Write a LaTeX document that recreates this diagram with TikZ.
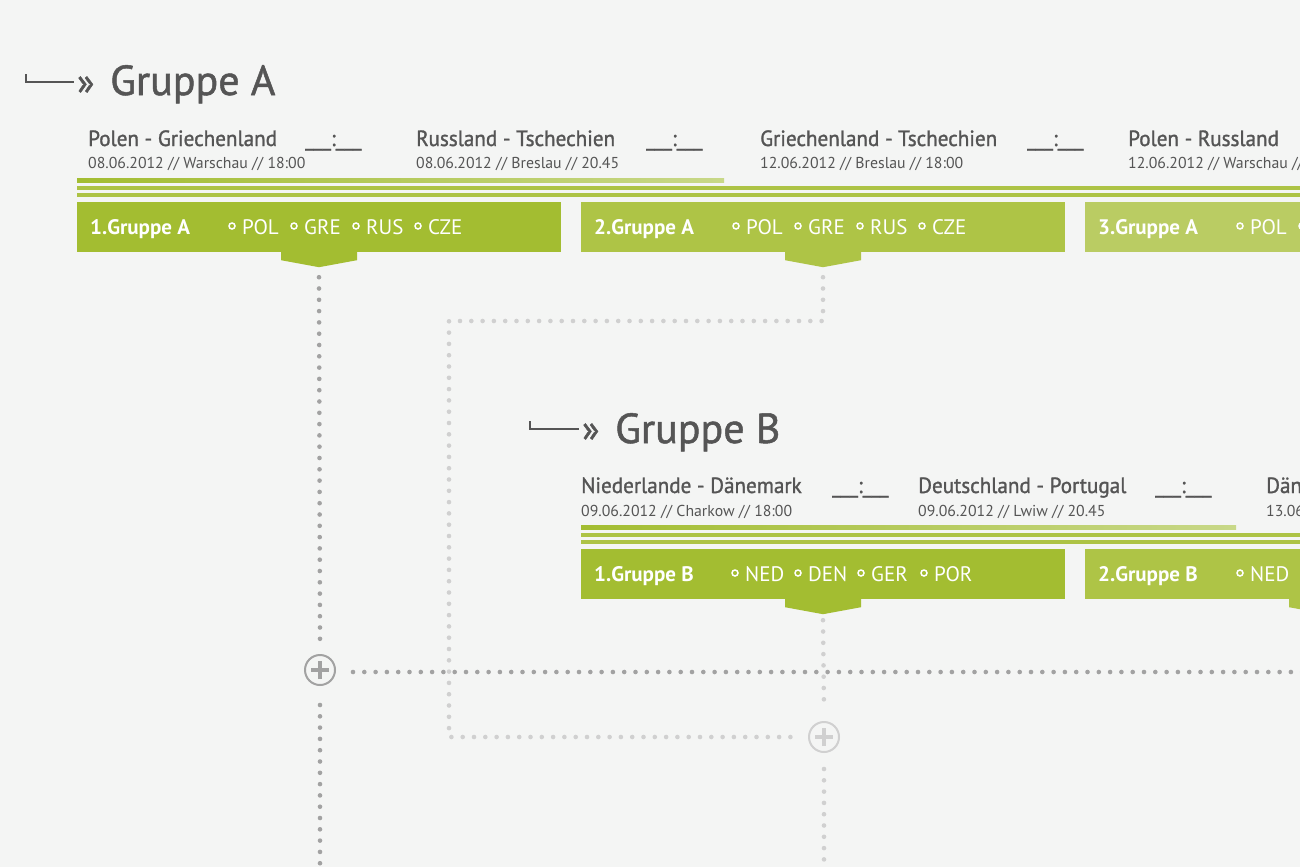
\documentclass[tikz,border=0pt]{standalone}
\usepackage{fontspec}
\setmainfont{PT Sans}
\newfontfamily\medf{PT Sans}[FakeStretch=0.96,FakeBold=1.3]
\newfontfamily\headf{PT Sans}[FakeBold=1.2]
\newfontfamily\boldf{PT Sans Bold}
\definecolor{bg}{HTML}{F4F5F4}
\definecolor{ink}{HTML}{555555}
\definecolor{gA}{HTML}{A3BD31}
\definecolor{gB}{HTML}{AEC446}
\definecolor{gC}{HTML}{BACC63}
\definecolor{gline}{HTML}{ADC345}
\definecolor{glineL}{HTML}{C8D888}
\definecolor{dotD}{HTML}{A2A2A2}
\definecolor{dotL}{HTML}{D0D0D0}
\begin{document}
\begin{tikzpicture}[x=1pt,y=-1pt,
  grp/.style={font=\headf\fontsize{42}{42}\selectfont, text=ink, anchor=base west, inner sep=0},
  guil/.style={font=\headf\fontsize{36}{36}\selectfont, text=ink, anchor=base west, inner sep=0},
  match/.style={font=\medf\fontsize{22}{22}\selectfont, text=ink, anchor=base west, inner sep=0},
  date/.style={font=\fontsize{15.8}{16}\selectfont, text=ink, anchor=base west, inner sep=0},
  box/.style={rectangle, minimum width=484pt, minimum height=50pt, inner sep=0, draw=none},
  blabel/.style={font=\boldf\fontsize{21}{21}\selectfont, text=white, anchor=base west, inner sep=0},
  team/.style={font=\fontsize{21}{21}\selectfont, text=white, anchor=base west, inner sep=0},
  tdot/.style={draw=white, line width=1.5pt},
  tick/.style={draw=ink, line width=1.6pt},
  dotsD/.style={draw=dotD, line width=4.6pt, line cap=round, dash pattern=on 0pt off 11.3pt},
  dotsL/.style={draw=dotL, line width=4.6pt, line cap=round, dash pattern=on 0pt off 11.3pt},
  plusn/.style={circle, draw=#1, line width=2pt, minimum size=30pt, inner sep=0,
    path picture={\draw[#1, line width=3.6pt]
      ([xshift=-9pt]path picture bounding box.center) -- ([xshift=9pt]path picture bounding box.center)
      ([yshift=-9pt]path picture bounding box.center) -- ([yshift=9pt]path picture bounding box.center);}},
]
\fill[bg] (0,0) rectangle (1300,867);
\useasboundingbox (0,0) rectangle (1300,867);
\clip (0,0) rectangle (1300,867);

% ---------- Gruppe A header ----------
\draw[tick] (26,74) -- (26,82) -- (74,82);
\node[guil] (guA) at (77,94) {»};
\node[grp] (gA) at (110,95) {Gruppe A};

\node[match] (mA1) at (88,146) {Polen - Griechenland};
\node[match] (sA1) at (305,146) {\_\_\_:\_\_\_};
\node[date]  (dA1) at (88,168) {08.06.2012 // Warschau // 18:00};
\node[match] (mA2) at (416,146) {Russland - Tschechien};
\node[match] (sA2) at (646,146) {\_\_\_:\_\_\_};
\node[date]  (dA2) at (416,168) {08.06.2012 // Breslau // 20.45};
\node[match] (mA3) at (760,146) {Griechenland - Tschechien};
\node[match] (sA3) at (1027,146) {\_\_\_:\_\_\_};
\node[date]  (dA3) at (760,168) {12.06.2012 // Breslau // 18:00};
\node[match] (mA4) at (1128,146) {Polen - Russland};
\node[date]  (dA4) at (1128,168) {12.06.2012 // Warschau // 20.45};

\shade[left color=gA, right color=glineL] (77,178) rectangle (724,182);
\fill[gline] (77,185.5) rectangle (1300,189.5);
\fill[gline] (77,193) rectangle (1300,197);

% ---------- Gruppe A boxes ----------
\node[box, fill=gA] (bA1) at (319,227) {};
\node[box, fill=gB] (bA2) at (823,227) {};
\node[box, fill=gC] (bA3) at (1327,227) {};
\fill[gA] ([xshift=-38pt]bA1.south) -- ++(0,8) -- ++(38,7) -- ++(38,-7) -- ++(0,-8) -- cycle;
\fill[gB] ([xshift=-38pt]bA2.south) -- ++(0,8) -- ++(38,7) -- ++(38,-7) -- ++(0,-8) -- cycle;
\coordinate (tA1) at ([yshift=-15pt]bA1.south);
\coordinate (tA2) at ([yshift=-15pt]bA2.south);

\node[blabel] (lA1) at (90,234) {1.Gruppe A};
\node[blabel] (lA2) at (594,234) {2.Gruppe A};
\node[blabel] (lA3) at (1098,234) {3.Gruppe A};
\foreach \x/\t [count=\i] in {232/POL,294/GRE,356/RUS,418/CZE} {
  \draw[tdot] (\x,226) circle[radius=3pt];
  \node[team] (tmAa\i) at (\x+10,234) {\t};
}
\foreach \x/\t [count=\i] in {736/POL,798/GRE,860/RUS,922/CZE} {
  \draw[tdot] (\x,226) circle[radius=3pt];
  \node[team] (tmAb\i) at (\x+10,234) {\t};
}
\foreach \x/\t [count=\i] in {1240/POL,1302/GRE} {
  \draw[tdot] (\x,226) circle[radius=3pt];
  \node[team] (tmAc\i) at (\x+10,234) {\t};
}

% ---------- Gruppe B header ----------
\draw[tick] (530,421) -- (530,429) -- (579,429);
\node[guil] (guB) at (582,441) {»};
\node[grp] (gB) at (615,443) {Gruppe B};

\node[match] (mB1) at (581,493) {Niederlande - Dänemark};
\node[match] (sB1) at (832,493) {\_\_\_:\_\_\_};
\node[date]  (dB1) at (581,516) {09.06.2012 // Charkow // 18:00};
\node[match] (mB2) at (918,493) {Deutschland - Portugal};
\node[match] (sB2) at (1155,493) {\_\_\_:\_\_\_};
\node[date]  (dB2) at (918,516) {09.06.2012 // Lwiw // 20.45};
\node[match] (mB3) at (1266,493) {Dänemark - Portugal};
\node[date]  (dB3) at (1266,516) {13.06.2012 // Lwiw // 20.45};

\shade[left color=gA, right color=glineL] (581,525) rectangle (1236,529);
\fill[gline] (581,532.5) rectangle (1300,536.5);
\fill[gline] (581,540) rectangle (1300,544);

% ---------- Gruppe B boxes ----------
\node[box, fill=gA] (bB1) at (823,574) {};
\node[box, fill=gB] (bB2) at (1327,574) {};
\fill[gA] ([xshift=-38pt]bB1.south) -- ++(0,8) -- ++(38,7) -- ++(38,-7) -- ++(0,-8) -- cycle;
\fill[gB] ([xshift=-38pt]bB2.south) -- ++(0,8) -- ++(38,7) -- ++(38,-7) -- ++(0,-8) -- cycle;
\coordinate (tB1) at ([yshift=-15pt]bB1.south);

\node[blabel] (lB1) at (594,581) {1.Gruppe B};
\node[blabel] (lB2) at (1098,581) {2.Gruppe B};
\foreach \x/\t [count=\i] in {735/NED,798/DEN,861/GER,924/POR} {
  \draw[tdot] (\x,573) circle[radius=3pt];
  \node[team] (tmBa\i) at (\x+10,581) {\t};
}
\draw[tdot] (1240,573) circle[radius=3pt];
\node[team] (tmBb1) at (1250,581) {NED};

% ---------- connectors ----------
\node[plusn=dotD] (pA) at (320,670) {};
\node[plusn=dotL] (pB) at (824,737) {};
\coordinate (c1) at (823,321);
\coordinate (c2) at (449,321);
\coordinate (c3) at (449,737);
\coordinate (eR) at (1310,672);
\coordinate (eA) at (320,875);
\coordinate (eB) at (824,875);

\draw[dotsL] ([yshift=-10pt]tA2) -- (c1) -- (c2) -- (c3) -- ([xshift=-14pt]pB.west);
\draw[dotsL] ([yshift=-6pt]tB1) -- ([yshift=14pt]pB.north);
\draw[dotsL] ([yshift=-16pt]pB.south) -- (eB);

\draw[dotsD] ([yshift=-10pt]tA1) -- ([yshift=15pt]pA.north);
\draw[dotsD] ([xshift=17pt]pA.east |- eR) -- (eR);
\draw[dotsD] ([yshift=-19pt]pA.south) -- (eA);
\end{tikzpicture}
\end{document}
